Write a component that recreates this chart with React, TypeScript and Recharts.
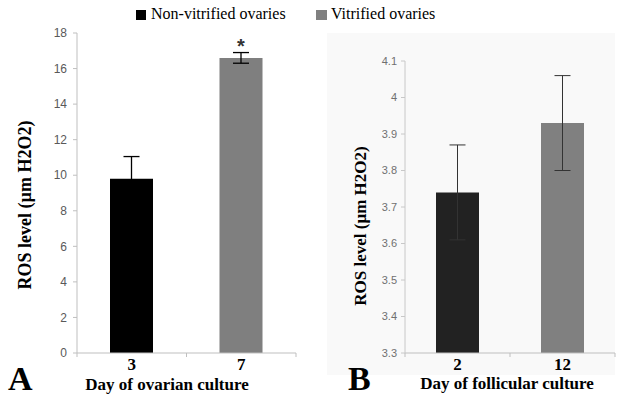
import React from "react";
import { BarChart, Bar, XAxis, YAxis, ErrorBar, Cell, LabelList } from "recharts";

const daysA = ["3", "7"];
const rosA = [9.8, 16.6];
const errA = [1.25, 0.3];
const sigA = ["", "*"];
const ticksA = [0, 2, 4, 6, 8, 10, 12, 14, 16, 18];

const daysB = ["2", "12"];
const rosB = [3.74, 3.93];
const errB = [0.13, 0.13];
const ticksB = [3.3, 3.4, 3.5, 3.6, 3.7, 3.8, 3.9, 4, 4.1];

const colorsA = ["#000000", "#7f7f7f"];
const colorsB = ["#222222", "#808080"];

const dataA = daysA.map((d, i) => ({ day: d, ros: rosA[i], err: errA[i], sig: sigA[i] }));
const dataB = daysB.map((d, i) => ({ day: d, ros: rosB[i], err: errB[i] }));

const serif = "'Liberation Serif', 'Times New Roman', serif";
const sans = "'Liberation Sans', Arial, sans-serif";

function DayTick(props: any) {
  const { x, y, payload, index, half } = props;
  return (
    <g>
      {index === 0 && <line x1={x - half} y1={y - 4} x2={x - half} y2={y} stroke="#bfbfbf" />}
      <line x1={x + half} y1={y - 4} x2={x + half} y2={y} stroke="#bfbfbf" />
      <text x={x} y={y + 13} textAnchor="middle" fontFamily={serif} fontWeight="bold" fontSize={17} fill="#000">
        {payload.value}
      </text>
    </g>
  );
}

function YTitle({ cx, cy, size }: { cx: number; cy: number; size: number }) {
  return (
    <text
      x={cx}
      y={cy}
      transform={`rotate(-90, ${cx}, ${cy})`}
      textAnchor="middle"
      dominantBaseline="central"
      fontFamily={serif}
      fontWeight="bold"
      fontSize={size}
      fill="#000"
    >
      ROS level (µm H2O2)
    </text>
  );
}

function XTitle({ px, py, text }: { px: number; py: number; text: string }) {
  return (
    <text x={px} y={py} textAnchor="middle" fontFamily={serif} fontWeight="bold" fontSize={17} fill="#000">
      {text}
    </text>
  );
}

export default function App() {
  return (
    <div style={{ position: "absolute", left: 0, top: 0, width: 618, height: 396, background: "#fff", overflow: "hidden" }}>
      {/* legend */}
      <div style={{ position: "absolute", left: 136, top: 10, width: 10, height: 10, background: "#000" }} />
      <div style={{ position: "absolute", left: 151, top: 4, fontFamily: serif, fontSize: 16, lineHeight: "20px", color: "#000" }}>
        Non-vitrified ovaries
      </div>
      <div style={{ position: "absolute", left: 316, top: 10, width: 11, height: 10, background: "#808080" }} />
      <div style={{ position: "absolute", left: 331, top: 4, fontFamily: serif, fontSize: 16, lineHeight: "20px", color: "#000" }}>
        Vitrified ovaries
      </div>

      {/* faint panel B backdrop */}
      <div style={{ position: "absolute", left: 327, top: 33, width: 288, height: 342, background: "#f9f9f9" }} />

      <div style={{ position: "absolute", left: 0, top: 0 }}>
        <BarChart width={310} height={396} data={dataA} margin={{ top: 33, right: 14, bottom: 13, left: 0 }} barSize={43}>
          <XAxis
            dataKey="day"
            height={30}
            tickSize={4}
            tickMargin={0}
            tickLine={false}
            axisLine={{ stroke: "#bfbfbf" }}
            tick={<DayTick half={54.75} />}
            label={<XTitle px={167} py={390} text="Day of ovarian culture" />}
          />
          <YAxis
            width={77}
            domain={[0, 18]}
            ticks={ticksA}
            interval={0}
            tickSize={4}
            tickMargin={6}
            axisLine={{ stroke: "#bfbfbf" }}
            tickLine={{ stroke: "#bfbfbf" }}
            tick={{ fill: "#595959", fontSize: 12, fontFamily: sans }}
            label={<YTitle cx={25} cy={205} size={18} />}
          />
          <Bar dataKey="ros" isAnimationActive={false}>
            {dataA.map((d, i) => (
              <Cell key={d.day} fill={colorsA[i]} />
            ))}
            <ErrorBar dataKey="err" width={8} stroke="#000" strokeWidth={1.3} isAnimationActive={false} />
            <LabelList dataKey="sig" position="top" offset={5} fill="#333" fontSize={20} fontWeight="bold" fontFamily={sans} />
          </Bar>
        </BarChart>
      </div>

      <div style={{ position: "absolute", left: 300, top: 0 }}>
        <BarChart width={318} height={396} data={dataB} margin={{ top: 61, right: 3, bottom: 13, left: 0 }} barSize={43}>
          <XAxis
            dataKey="day"
            height={30}
            tickSize={4}
            tickMargin={0}
            tickLine={false}
            axisLine={{ stroke: "#bfbfbf" }}
            tick={<DayTick half={52.5} />}
            label={<XTitle px={207} py={389} text="Day of follicular culture" />}
          />
          <YAxis
            width={105}
            domain={[3.3, 4.1]}
            ticks={ticksB}
            interval={0}
            tickSize={4}
            tickMargin={4}
            axisLine={{ stroke: "#c8c8c8" }}
            tickLine={{ stroke: "#c8c8c8" }}
            tick={{ fill: "#707070", fontSize: 11, fontFamily: sans }}
            label={<YTitle cx={60} cy={226} size={17} />}
          />
          <Bar dataKey="ros" isAnimationActive={false}>
            {dataB.map((d, i) => (
              <Cell key={d.day} fill={colorsB[i]} />
            ))}
            <ErrorBar dataKey="err" width={8} stroke="#333" strokeWidth={1} isAnimationActive={false} />
          </Bar>
        </BarChart>
      </div>

      <div style={{ position: "absolute", left: 8, top: 362, fontFamily: serif, fontWeight: "bold", fontSize: 34, lineHeight: "34px", color: "#000" }}>
        A
      </div>
      <div style={{ position: "absolute", left: 348, top: 362, fontFamily: serif, fontWeight: "bold", fontSize: 34, lineHeight: "34px", color: "#000" }}>
        B
      </div>
    </div>
  );
}
